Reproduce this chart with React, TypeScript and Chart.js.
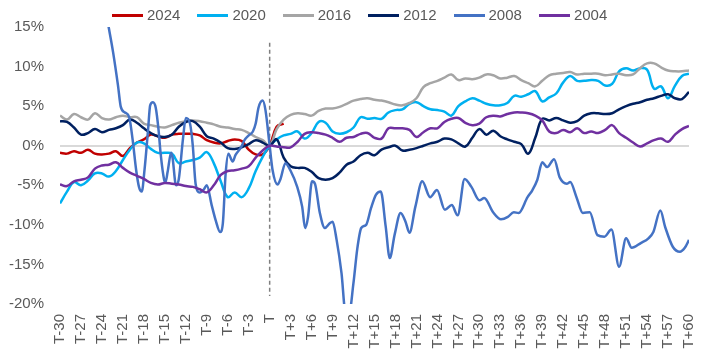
import React, { useEffect, useRef } from "react";
import { Chart, registerables } from "chart.js";

Chart.register(...registerables);

// Periods relative to election month T (T-30 .. T+60)
const periods: number[] = Array.from({ length: 91 }, (_, i) => i - 30);

const seriesNames = ["2024", "2020", "2016", "2012", "2008", "2004"];
const seriesColors = ["#C00000", "#00B0F0", "#A5A5A5", "#002060", "#4472C4", "#7030A0"];

// 2024: T-30 .. T+2
const s2024 = [
  -0.9, -1.0, -0.7, -0.9, -0.5, -1.0, -1.1, -1.0, -0.7, -1.3,
  -0.3, 0.4, 0.8, 1.4, 1.2, 1.0, 1.4, 1.5, 1.5, 1.5,
  1.3, 0.7, 0.4, 0.3, 0.6, 0.8, 0.6, -0.5, -1.1, -1.1,
  0, 2.4, 2.8,
];

// 2020: T-30 .. T+60
const s2020 = [
  -7.3, -5.8, -4.6, -5.0, -4.4, -3.5, -3.5, -3.9, -3.2, -1.8,
  -0.5, 0.4, 0.3, -0.4, -0.9, -0.9, -1.0, -2.2, -2.0, -1.8,
  -1.5, -0.8, -2.2, -4.5, -6.5, -5.9, -6.5, -5.4, -3.2, -1.4,
  0,
  0.8, 1.3, 1.5, 1.8, 0.9, 1.6, 3.0, 2.9, 1.8, 1.5,
  1.7, 2.3, 3.6, 3.4, 3.5, 3.4, 4.2, 4.5, 4.6, 5.3,
  5.5, 5.0, 4.6, 4.5, 4.3, 3.8, 5.0, 5.6, 6.0, 5.7,
  5.3, 5.1, 5.1, 5.4, 6.3, 6.2, 6.5, 6.9, 5.6, 6.1,
  6.6, 8.0, 8.8, 8.2, 8.2, 8.3, 8.2, 7.6, 7.8, 9.4,
  9.8, 9.5, 9.8, 9.6, 7.2, 7.5, 6.0, 7.6, 8.8, 9.1,
];

// 2016: T-30 .. T+60
const s2016 = [
  3.8, 3.3, 4.0, 3.6, 3.3, 4.1, 3.5, 3.3, 3.6, 3.8,
  3.6, 3.6, 2.8, 2.6, 2.4, 2.3, 2.6, 2.9, 3.1, 3.2,
  3.1, 2.9, 2.7, 2.4, 2.3, 2.1, 2.0, 1.6, 1.1, 0.7,
  0,
  2.1, 3.3, 3.9, 4.1, 4.0, 3.8, 4.4, 4.7, 4.7, 4.9,
  5.3, 5.7, 5.9, 6.0, 5.8, 5.7, 5.5, 5.2, 5.1, 5.4,
  6.0, 7.4, 7.9, 8.2, 8.6, 9.0, 8.3, 8.5, 8.4, 8.6,
  9.0, 8.9, 8.5, 8.6, 8.8, 8.3, 7.9, 7.5, 8.2, 8.9,
  9.1, 9.2, 9.3, 9.0, 9.1, 9.1, 9.1, 8.9, 9.0, 9.1,
  8.9, 9.0, 9.8, 10.4, 10.4, 9.9, 9.5, 9.4, 9.4, 9.5,
];

// 2012: T-30 .. T+60
const s2012 = [
  3.1, 3.0, 2.3, 1.4, 1.6, 2.1, 1.7, 2.0, 2.2, 2.6,
  3.3, 2.9, 2.2, 1.6, 1.2, 1.1, 1.4, 2.4, 3.0, 3.1,
  2.4, 1.2, 0.9, 0.4, -0.3, -0.4, -0.2, 0.2, 0.7, 0.4,
  0,
  0.8, -1.5, -2.6, -2.8, -2.8, -3.3, -4.1, -4.3, -4.1, -3.4,
  -2.4, -2.0, -1.2, -0.9, -1.2, -0.5, -0.2, 0.0, -0.6, -0.5,
  -0.3, 0.0, 0.3, 0.5, 0.9, 0.8, 0.3, -0.1, 1.0, 2.1,
  1.4, 1.9, 1.2, 0.8, 0.5, 0.2, -1.0, 1.0, 3.4, 3.2,
  3.5, 3.2, 2.9, 3.1, 3.8, 4.1, 4.1, 4.0, 4.1, 4.6,
  5.0, 5.3, 5.5, 5.8, 6.0, 6.3, 6.5, 6.0, 5.9, 6.8,
];

// 2004: T-30 .. T+60
const s2004 = [
  -4.9, -5.1, -4.5, -4.3, -4.0, -2.9, -2.5, -2.4, -2.1, -2.8,
  -3.4, -3.8, -4.2, -4.7, -4.9, -4.7, -4.8, -4.9, -5.1, -5.2,
  -5.5, -5.9, -5.0, -3.7, -3.2, -3.1, -2.9, -2.6, -1.5, -0.6,
  0,
  -0.1, -0.2, -0.2, 0.5, 1.5, 1.7, 1.6, 1.4, 1.0, 0.5,
  1.0, 1.1, 1.5, 1.6, 1.0, 0.9, 2.2, 2.2, 2.2, 2.0,
  1.1, 1.7, 2.2, 2.2, 3.0, 3.4, 3.5, 2.9, 2.6, 2.8,
  3.6, 3.8, 3.7, 4.0, 4.2, 4.2, 4.1, 3.8, 3.2, 1.8,
  1.6, 2.0, 1.7, 2.2, 1.6, 1.8, 1.6, 2.0, 2.6, 1.6,
  1.0, 0.4, -0.1, 0.3, 0.7, 0.9, 0.5, 1.4, 2.1, 2.5,
];

// 2008: sampled more finely (period, value)
const t2008 = [
  -23.1, -22.4, -21.7, -21.3, -20.7, -20.1, -19.6, -19.1, -18.7, -18.3,
  -17.9, -17.4, -17.1, -16.7, -16.3, -15.9, -15.6, -15.1, -14.9, -14.6,
  -14.1, -13.9, -13.4, -13.0, -12.4, -12.0, -11.4, -11.0, -10.6, -10.0,
  -9.4, -9.0, -8.3, -7.7, -7.1, -6.7, -6.3, -5.9, -5.3, -4.9,
  -4.1, -3.6, -3.0, -2.4, -2.0, -1.6, -1.0, -0.6, 0,
  0.42, 1.13, 1.55, 2.25, 2.96, 3.94, 4.65, 5.07, 5.49, 6.06,
  6.48, 7.18, 7.89, 8.59, 9.01, 9.58, 10.28, 10.85, 11.41, 11.97,
  12.54, 13.1, 13.8, 14.5, 15.2, 15.9, 16.6, 17.18, 17.89, 18.73,
  19.44, 20.0, 20.85, 21.83, 22.96, 23.94, 25.07, 26.06, 26.9, 27.89,
  28.87, 30.0, 30.7, 31.97, 33.1, 34.08, 34.93, 35.63, 36.9, 37.6,
  38.3, 39.0, 39.7, 40.7, 41.5, 42.5, 43.0, 43.9, 44.8, 45.8,
  46.9, 47.9, 48.9, 50.0, 51.0, 51.8, 53.1, 54.2, 54.9, 55.9,
  56.6, 57.7, 58.7, 59.4, 60.0,
];
const v2008 = [
  15.3, 11.8, 7.6, 4.9, 4.2, 3.6, 0.7, -3.1, -5.2, -5.8,
  -3.0, 2.0, 5.1, 5.5, 4.8, 2.0, -1.0, -4.3, -4.6, -3.3,
  -0.9, -1.5, -5.0, -4.2, 0.9, 3.5, 2.8, 0.0, -4.8, -5.9,
  -5.5, -5.0, -7.5, -9.5, -10.9, -9.8, -3.5, -1.0, -2.0, -1.2,
  -0.2, 0.7, 1.3, 1.8, 2.8, 4.8, 5.7, 4.5, 0,
  -3.1, -4.9, -4.2, -2.2, -3.1, -5.2, -7.7, -10.4, -9.0, -4.5,
  -4.8, -8.5, -10.4, -9.8, -9.6, -11.9, -16.1, -21.0, -21.0, -17.5,
  -13.0, -10.4, -10.0, -7.9, -6.2, -5.8, -10.2, -14.2, -11.2, -8.5,
  -9.6, -11.0, -7.7, -4.5, -6.5, -5.6, -8.1, -7.5, -8.8, -4.2,
  -5.2, -6.9, -6.6, -8.4, -9.3, -9.0, -8.4, -8.5, -6.5, -5.6,
  -4.3, -2.1, -2.7, -1.7, -4.0, -4.8, -4.6, -6.5, -8.5, -8.4,
  -11.3, -11.5, -10.6, -15.3, -11.7, -12.9, -12.3, -11.7, -10.9, -8.2,
  -10.3, -12.8, -13.4, -12.9, -11.9,
];

const yTicks = { min: -20, max: 15, step: 5 };
const xTicks = { min: -30, max: 60, step: 3 };
const markerPeriod = 0;
const markerRange = [13, -19];

const FONT = '"Liberation Sans", Arial, sans-serif';
const TEXT = "#595959";

const fmtPeriod = (v: number) => {
  const n = Math.round(v);
  if (n === 0) return "T";
  return n < 0 ? `T${n}` : `T+${n}`;
};

const markerPlugin = {
  id: "tMarker",
  beforeDatasetsDraw(chart: any) {
    const { ctx, scales } = chart;
    const x = scales.x.getPixelForValue(markerPeriod);
    ctx.save();
    ctx.strokeStyle = "#7F7F7F";
    ctx.lineWidth = 1.5;
    ctx.setLineDash([4, 3]);
    ctx.beginPath();
    ctx.moveTo(x, scales.y.getPixelForValue(markerRange[0]));
    ctx.lineTo(x, scales.y.getPixelForValue(markerRange[1]));
    ctx.stroke();
    ctx.restore();
  },
};

export default function App() {
  const ref = useRef<HTMLCanvasElement>(null);

  useEffect(() => {
    if (!ref.current) return;
    const monthly = (vals: number[]) => vals.map((v, i) => ({ x: periods[i], y: v }));
    const values = [s2024, s2020, s2016, s2012, null, s2004];
    const datasets = seriesNames.map((name, i) => {
      const data =
        name === "2008"
          ? t2008.map((t, k) => ({ x: t, y: v2008[k] }))
          : monthly(values[i] as number[]);
      return {
        label: name,
        data,
        borderColor: seriesColors[i],
        backgroundColor: seriesColors[i],
        borderWidth: 2.5,
        pointRadius: 0,
        fill: false,
        tension: 0.4,
        cubicInterpolationMode: name === "2008" ? "monotone" : "default",
        order: seriesNames.length - 1 - i,
      } as any;
    });

    const chart = new Chart(ref.current, {
      type: "line",
      data: { datasets },
      options: {
        responsive: false,
        animation: false,
        layout: { padding: { top: 27, right: 19, bottom: 0, left: 0 } },
        plugins: { legend: { display: false }, tooltip: { enabled: false } },
        scales: {
          x: {
            type: "linear",
            min: xTicks.min,
            max: xTicks.max,
            grid: { display: false, drawTicks: false },
            border: { display: false },
            afterFit: (s: any) => {
              s.height = 58;
            },
            ticks: {
              stepSize: xTicks.step,
              autoSkip: false,
              minRotation: 90,
              maxRotation: 90,
              padding: 10,
              color: TEXT,
              font: { family: FONT, size: 15 },
              callback: (v: any) => fmtPeriod(Number(v)),
            },
          },
          y: {
            min: yTicks.min,
            max: yTicks.max,
            afterFit: (s: any) => {
              s.width = 60;
            },
            grid: {
              drawTicks: false,
              lineWidth: 2,
              color: (c: any) => (c.tick && c.tick.value === 0 ? "#D9D9D9" : "rgba(0,0,0,0)"),
            },
            border: { display: false },
            ticks: {
              stepSize: yTicks.step,
              padding: 16,
              color: TEXT,
              font: { family: FONT, size: 15 },
              callback: (v: any) => `${v}%`,
            },
          },
        },
      } as any,
      plugins: [markerPlugin],
    });
    return () => chart.destroy();
  }, []);

  return (
    <div style={{ position: "absolute", left: 0, top: 0, width: 717, height: 362, background: "#fff" }}>
      <canvas ref={ref} width={717} height={362} style={{ display: "block" }} />
      <div
        style={{
          position: "absolute",
          left: 112,
          top: 5,
          height: 20,
          display: "flex",
          alignItems: "center",
          gap: 17,
          fontFamily: FONT,
          fontSize: 15,
          lineHeight: "20px",
          color: TEXT,
          whiteSpace: "nowrap",
        }}
      >
        {seriesNames.map((name, i) => (
          <div key={name} style={{ display: "flex", alignItems: "center" }}>
            <span style={{ display: "inline-block", width: 31, height: 3, background: seriesColors[i], marginRight: 4 }} />
            <span>{name}</span>
          </div>
        ))}
      </div>
    </div>
  );
}
